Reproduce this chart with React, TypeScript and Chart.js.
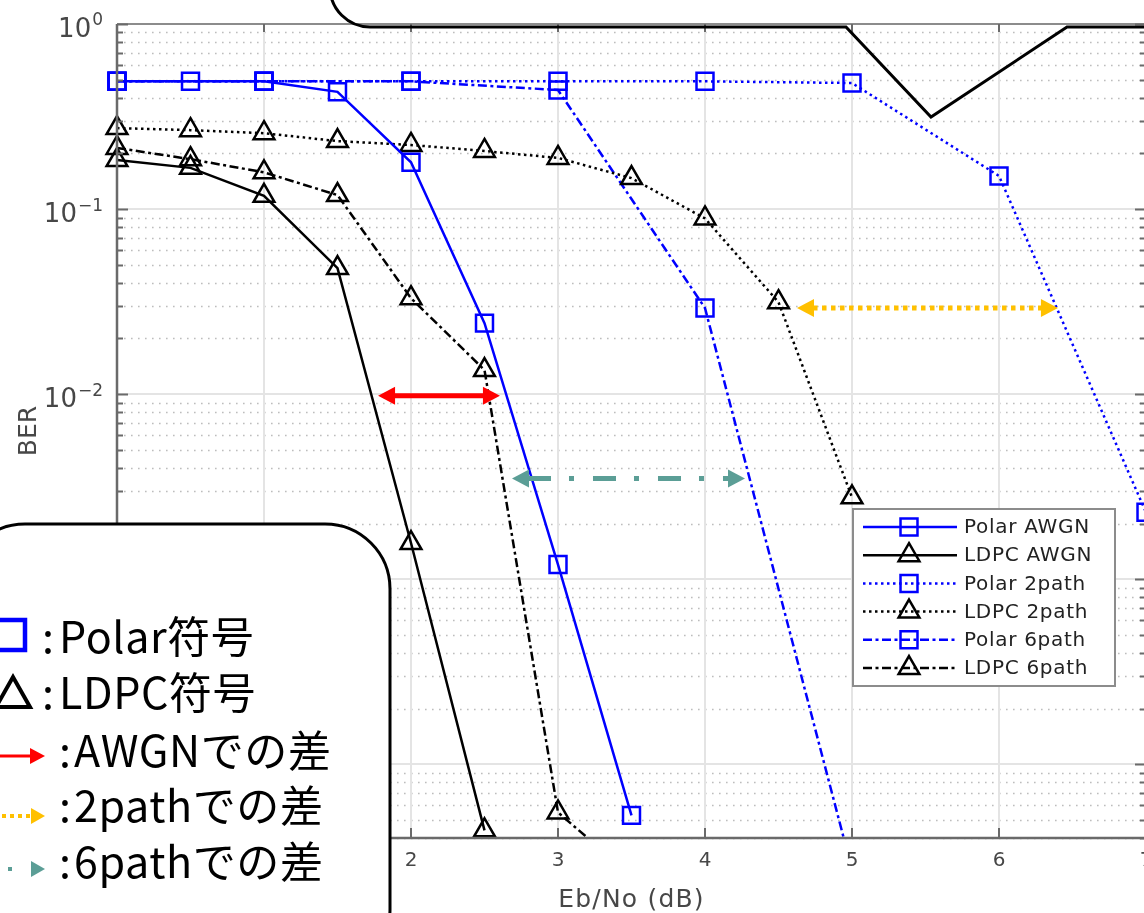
import React, { useEffect, useRef } from "react";
import { Chart, registerables } from "chart.js";

Chart.register(...registerables);

// ---------------- data ----------------
const xHalfSteps = [0, 0.5, 1, 1.5, 2, 2.5, 3, 3.5, 4, 4.5, 5];
const xIntSteps = [0, 1, 2, 3, 4, 5, 6, 7];

const polarAWGN = [0.49, 0.49, 0.49, 0.43, 0.179, 0.0242, 0.0012, 5.3e-5];
const ldpcAWGN = [0.184, 0.167, 0.118, 0.048, 0.00157, 4.4e-5];
const polar2path = [0.49, 0.49, 0.49, 0.49, 0.49, 0.48, 0.151, 0.0023];
const ldpc2path = [0.274, 0.267, 0.257, 0.233, 0.222, 0.206, 0.189, 0.147, 0.089, 0.0314, 0.00277];
const polar6path = [0.49, 0.49, 0.49, 0.44, 0.0292, 2.7e-5];
const ldpc6path = [0.214, 0.186, 0.158, 0.119, 0.033, 0.0135, 5.5e-5, 2.5e-5];

const seriesNames = ["Polar AWGN", "LDPC AWGN", "Polar 2path", "LDPC 2path", "Polar 6path", "LDPC 6path"];

const xTickLabels = ["0", "1", "2", "3", "4", "5", "6", "7"];
const yTickExponents = [0, -1, -2, -3, -4];

// gap arrows (Eb/No start, Eb/No end, BER level)
const arrowStart = [1.776, 4.626, 2.687];
const arrowEnd = [2.605, 6.401, 4.272];
const arrowLevel = [0.0098, 0.0292, 0.0035];

const X_MIN = 0;
const X_MAX = 7;
const Y_MIN = 4e-5;
const Y_MAX = 1;

const MFONT = '"DejaVu Sans", sans-serif';
const TXT = "#474747";

const pts = (xs: number[], ys: number[]) => ys.map((v, i) => ({ x: xs[i], y: v }));

const BLUE = "#0000ff";
const BLACK = "#000000";
const DOT = [2.5, 3.5];
const DASHDOT = [9, 3.5, 3, 3.5];

const arrowColors = ["#ff0000", "#ffc000", "#5b9e96"];
const arrowDashes = [[], [4.5, 4.5], [23, 18, 5, 19]];

function drawMarker(ctx: CanvasRenderingContext2D, style: string, x: number, y: number, color: string) {
  ctx.save();
  ctx.setLineDash([]);
  ctx.strokeStyle = color;
  ctx.lineWidth = 2.5;
  ctx.beginPath();
  if (style === "rect") {
    const s = 12 * Math.SQRT1_2;
    ctx.rect(x - s, y - s, 2 * s, 2 * s);
  } else {
    const r = 12;
    ctx.moveTo(x, y - r);
    ctx.lineTo(x + r * Math.sin((2 * Math.PI) / 3), y - r * Math.cos((2 * Math.PI) / 3));
    ctx.lineTo(x + r * Math.sin((4 * Math.PI) / 3), y - r * Math.cos((4 * Math.PI) / 3));
    ctx.closePath();
  }
  ctx.stroke();
  ctx.restore();
}

const matlabPlugin = {
  id: "matlabLook",
  beforeDatasetsDraw(chart: any) {
    const { ctx, chartArea: a, scales } = chart;
    const xs = scales.x;
    const ys = scales.y;
    ctx.save();
    // minor dotted y grid
    ctx.lineWidth = 1.5;
    ctx.strokeStyle = "#bdbdbd";
    ctx.setLineDash([1.6, 5.4]);
    for (let e = -5; e <= 0; e++) {
      for (let m = 2; m <= 9; m++) {
        const v = m * Math.pow(10, e);
        if (v < ys.min * 0.999 || v > ys.max) continue;
        const py = Math.round(ys.getPixelForValue(v)) + 0.5;
        ctx.beginPath();
        ctx.moveTo(a.left, py);
        ctx.lineTo(a.right, py);
        ctx.stroke();
      }
    }
    ctx.setLineDash([]);
    // major solid grid
    ctx.strokeStyle = "#e4e4e4";
    ctx.lineWidth = 2;
    for (let e = -5; e <= 0; e++) {
      const v = Math.pow(10, e);
      if (v < ys.min || v > ys.max) continue;
      const py = Math.round(ys.getPixelForValue(v));
      ctx.beginPath();
      ctx.moveTo(a.left, py);
      ctx.lineTo(a.right, py);
      ctx.stroke();
    }
    xTickLabels.forEach((_, i) => {
      const px = Math.round(xs.getPixelForValue(i));
      ctx.beginPath();
      ctx.moveTo(px, a.top);
      ctx.lineTo(px, a.bottom);
      ctx.stroke();
    });
    ctx.restore();
  },
  afterDatasetsDraw(chart: any) {
    const { ctx, chartArea: a, scales } = chart;
    const xs = scales.x;
    const ys = scales.y;
    ctx.save();
    // axes box
    ctx.setLineDash([]);
    ctx.strokeStyle = "#8c8c8c";
    ctx.lineWidth = 2;
    ctx.beginPath();
    ctx.moveTo(a.left, a.top);
    ctx.lineTo(a.right, a.top);
    ctx.stroke();
    ctx.strokeStyle = "#6a6a6a";
    ctx.lineWidth = 2.5;
    ctx.beginPath();
    ctx.moveTo(a.left, a.top);
    ctx.lineTo(a.left, a.bottom);
    ctx.lineTo(a.right, a.bottom);
    ctx.lineTo(a.right, a.top);
    ctx.stroke();
    // y ticks (inward, both sides)
    ctx.lineWidth = 2;
    ctx.strokeStyle = "#6a6a6a";
    for (let e = -5; e <= 0; e++) {
      for (let m = 1; m <= 9; m++) {
        const v = m * Math.pow(10, e);
        if (v < ys.min * 0.999 || v > ys.max) continue;
        const py = Math.round(ys.getPixelForValue(v)) + 0.5;
        const len = m === 1 ? 11 : 6;
        ctx.beginPath();
        ctx.moveTo(a.left, py);
        ctx.lineTo(a.left + len, py);
        ctx.moveTo(a.right, py);
        ctx.lineTo(a.right - len, py);
        ctx.stroke();
      }
    }
    // x ticks
    xTickLabels.forEach((_, i) => {
      const px = Math.round(xs.getPixelForValue(i));
      ctx.beginPath();
      ctx.moveTo(px, a.bottom);
      ctx.lineTo(px, a.bottom - 10);
      ctx.moveTo(px, a.top);
      ctx.lineTo(px, a.top + 8);
      ctx.stroke();
    });

    // gap arrows
    arrowStart.forEach((x0v, i) => {
      const x0 = xs.getPixelForValue(x0v);
      const x1 = xs.getPixelForValue(arrowEnd[i]);
      const y = ys.getPixelForValue(arrowLevel[i]);
      const hl = 17;
      const hh = 9;
      ctx.strokeStyle = arrowColors[i];
      ctx.fillStyle = arrowColors[i];
      ctx.lineWidth = 5;
      ctx.lineCap = "butt";
      ctx.setLineDash(arrowDashes[i]);
      ctx.beginPath();
      ctx.moveTo(x0 + hl - 1, y);
      ctx.lineTo(x1 - hl + 1, y);
      ctx.stroke();
      ctx.setLineDash([]);
      ctx.beginPath();
      ctx.moveTo(x0, y);
      ctx.lineTo(x0 + hl, y - hh);
      ctx.lineTo(x0 + hl, y + hh);
      ctx.closePath();
      ctx.fill();
      ctx.beginPath();
      ctx.moveTo(x1, y);
      ctx.lineTo(x1 - hl, y - hh);
      ctx.lineTo(x1 - hl, y + hh);
      ctx.closePath();
      ctx.fill();
    });

    // MATLAB style legend
    const lw = 262;
    const lh = 177;
    const lx = a.right - 31 - lw;
    const ly = a.bottom - 329;
    ctx.fillStyle = "#ffffff";
    ctx.fillRect(lx, ly, lw, lh);
    ctx.strokeStyle = "#8c8c8c";
    ctx.lineWidth = 2;
    ctx.strokeRect(lx, ly, lw, lh);
    ctx.font = `20px ${MFONT}`;
    ctx.textBaseline = "middle";
    ctx.textAlign = "left";
    (ctx as any).letterSpacing = "0.7px";
    chart.data.datasets.forEach((ds: any, i: number) => {
      const ry = ly + 18 + i * 28.2;
      ctx.strokeStyle = ds.borderColor;
      ctx.lineWidth = ds.borderWidth;
      ctx.setLineDash(ds.borderDash || []);
      ctx.beginPath();
      ctx.moveTo(lx + 10, ry);
      ctx.lineTo(lx + 104, ry);
      ctx.stroke();
      drawMarker(ctx, ds.pointStyle, lx + 56, ry, ds.borderColor);
      ctx.fillStyle = "#222222";
      ctx.fillText(ds.label, lx + 111, ry + 1);
    });
    (ctx as any).letterSpacing = "0px";
    ctx.restore();
  },
  afterDraw(chart: any) {
    const { ctx, chartArea: a, scales } = chart;
    const xs = scales.x;
    const ys = scales.y;
    ctx.save();
    ctx.fillStyle = TXT;
    // x tick labels
    ctx.font = `20px ${MFONT}`;
    ctx.textAlign = "center";
    ctx.textBaseline = "top";
    xTickLabels.forEach((lab, i) => {
      ctx.fillText(lab, xs.getPixelForValue(i), a.bottom + 13);
    });
    // y tick labels 10^n
    yTickExponents.forEach((e) => {
      const py = ys.getPixelForValue(Math.pow(10, e));
      const ex = e === 0 ? "0" : "\u2212" + String(-e);
      ctx.font = `17px ${MFONT}`;
      ctx.textAlign = "right";
      ctx.textBaseline = "middle";
      const ew = ctx.measureText(ex).width;
      ctx.fillText(ex, 103, py - 3);
      ctx.font = `26px ${MFONT}`;
      ctx.fillText("10", 103 - ew - 1, py + 6);
    });
    // axis titles
    ctx.font = `25px ${MFONT}`;
    ctx.textAlign = "center";
    ctx.textBaseline = "middle";
    (ctx as any).letterSpacing = "1.2px";
    ctx.fillText("Eb/No (dB)", (a.left + a.right) / 2, a.bottom + 62);
    (ctx as any).letterSpacing = "0px";
    ctx.translate(29, (a.top + a.bottom) / 2);
    ctx.rotate(-Math.PI / 2);
    ctx.fillText("BER", 0, 0);
    ctx.restore();
  },
};

function makeDataset(label: string, xs: number[], ys: number[], color: string, dash: number[], style: string) {
  return {
    label,
    data: pts(xs, ys),
    borderColor: color,
    backgroundColor: "rgba(0,0,0,0)",
    borderWidth: 2.5,
    borderDash: dash,
    pointStyle: style,
    pointRadius: 12,
    pointBorderWidth: 2.5,
    pointBorderColor: color,
    pointBackgroundColor: "rgba(0,0,0,0)",
    tension: 0,
    clip: { left: 20, top: 20, right: 20, bottom: 1 },
  };
}

export default function App() {
  const ref = useRef<HTMLCanvasElement>(null);
  useEffect(() => {
    if (!ref.current) return;
    const chart = new Chart(ref.current, {
      type: "line",
      data: {
        datasets: [
          makeDataset(seriesNames[0], xHalfSteps, polarAWGN, BLUE, [], "rect"),
          makeDataset(seriesNames[1], xHalfSteps, ldpcAWGN, BLACK, [], "triangle"),
          makeDataset(seriesNames[2], xIntSteps, polar2path, BLUE, DOT, "rect"),
          makeDataset(seriesNames[3], xHalfSteps, ldpc2path, BLACK, DOT, "triangle"),
          makeDataset(seriesNames[4], xIntSteps, polar6path, BLUE, DASHDOT, "rect"),
          makeDataset(seriesNames[5], xHalfSteps, ldpc6path, BLACK, DASHDOT, "triangle"),
        ] as any,
      },
      options: {
        responsive: false,
        animation: false,
        devicePixelRatio: 1,
        layout: { padding: { left: 117, top: 24, right: 24, bottom: 75 } },
        plugins: { legend: { display: false }, tooltip: { enabled: false } },
        events: [],
        scales: {
          x: { type: "linear", min: X_MIN, max: X_MAX, display: false },
          y: { type: "logarithmic", min: Y_MIN, max: Y_MAX, display: false },
        },
      },
      plugins: [matlabPlugin as any],
    });
    return () => chart.destroy();
  }, []);

  const jp = '"Noto Sans CJK JP", "Noto Sans", sans-serif';
  return (
    <div style={{ position: "absolute", left: 0, top: 0, width: 1144, height: 913, overflow: "hidden", background: "#fff" }}>
      <canvas ref={ref} width={1170} height={913} style={{ position: "absolute", left: 0, top: 0, display: "block" }} />
      <svg width={1144} height={913} style={{ position: "absolute", left: 0, top: 0 }}>
        {/* callout at top */}
        <path d="M 330 -20 L 330 -13 A 40 40 0 0 0 370 27 L 846 27 L 931 117 L 1067 27 L 1170 27" fill="none" stroke="#000" strokeWidth={3} strokeLinejoin="miter" />
        {/* legend box bottom-left */}
        <rect x={-40} y={524} width={430} height={450} rx={65} ry={65} fill="#fff" stroke="#000" strokeWidth={3} />
        <rect x={-5} y={620} width={30} height={30} fill="none" stroke="#0000ff" strokeWidth={4.5} />
        <polygon points="-4,707 13,677 30,707" fill="none" stroke="#000" strokeWidth={4} strokeLinejoin="miter" />
        <line x1={-10} y1={756} x2={32} y2={756} stroke="#ff0000" strokeWidth={3} />
        <polygon points="45,756 30,748 30,764" fill="#ff0000" />
        <line x1={-6} y1={816} x2={32} y2={816} stroke="#ffc000" strokeWidth={4} strokeDasharray="4 4" />
        <polygon points="45,816 31,808 31,824" fill="#ffc000" />
        <line x1={-20} y1={869} x2={12} y2={869} stroke="#5b9e96" strokeWidth={4} strokeDasharray="12 16 4 16" strokeDashoffset={0} />
        <polygon points="45,869 31,861 31,877" fill="#5b9e96" />
        <g fontFamily={jp} fontSize={43} fill="#000" letterSpacing={0.6}>
          <text x={42} y={653}>:</text>
          <text x={59} y={653}>Polar符号</text>
          <text x={42} y={709}>:</text>
          <text x={59} y={709}>LDPC符号</text>
          <text x={59} y={767}>:</text>
          <text x={74} y={767}>AWGNでの差</text>
          <text x={59} y={822}>:</text>
          <text x={74} y={822}>2pathでの差</text>
          <text x={59} y={878}>:</text>
          <text x={74} y={878}>6pathでの差</text>
        </g>
      </svg>
    </div>
  );
}
